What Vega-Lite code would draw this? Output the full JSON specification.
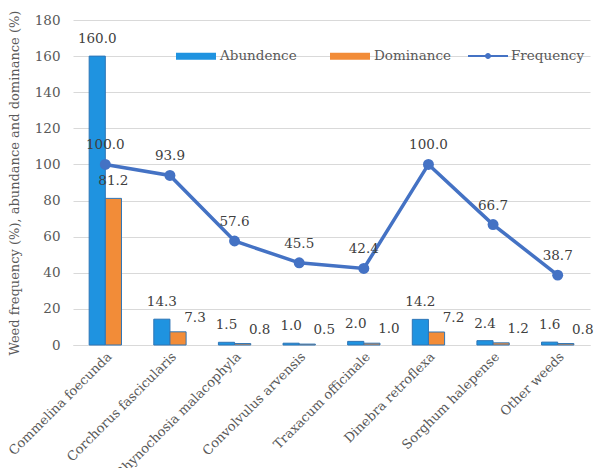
{
  "$schema": "https://vega.github.io/schema/vega-lite/v6.json",
  "autosize": {"type": "none"},
  "width": 517,
  "height": 325,
  "padding": {"left": 73, "top": 20, "right": 9, "bottom": 123},
  "background": "white",
  "config": {"font": "DejaVu Serif", "view": {"stroke": null}},
  "datasets": {
    "bars": [
      {"species": "Commelina foecunda", "series": "Abundence", "value": 160.0},
      {"species": "Commelina foecunda", "series": "Dominance", "value": 81.2},
      {"species": "Corchorus fascicularis", "series": "Abundence", "value": 14.3},
      {"species": "Corchorus fascicularis", "series": "Dominance", "value": 7.3},
      {"species": "Rhynochosia malacophyla", "series": "Abundence", "value": 1.5},
      {"species": "Rhynochosia malacophyla", "series": "Dominance", "value": 0.8},
      {"species": "Convolvulus arvensis", "series": "Abundence", "value": 1.0},
      {"species": "Convolvulus arvensis", "series": "Dominance", "value": 0.5},
      {"species": "Traxacum officinale", "series": "Abundence", "value": 2.0},
      {"species": "Traxacum officinale", "series": "Dominance", "value": 1.0},
      {"species": "Dinebra retroflexa", "series": "Abundence", "value": 14.2},
      {"species": "Dinebra retroflexa", "series": "Dominance", "value": 7.2},
      {"species": "Sorghum halepense", "series": "Abundence", "value": 2.4},
      {"species": "Sorghum halepense", "series": "Dominance", "value": 1.2},
      {"species": "Other weeds", "series": "Abundence", "value": 1.6},
      {"species": "Other weeds", "series": "Dominance", "value": 0.8}
    ],
    "freq": [
      {"species": "Commelina foecunda", "value": 100.0},
      {"species": "Corchorus fascicularis", "value": 93.9},
      {"species": "Rhynochosia malacophyla", "value": 57.6},
      {"species": "Convolvulus arvensis", "value": 45.5},
      {"species": "Traxacum officinale", "value": 42.4},
      {"species": "Dinebra retroflexa", "value": 100.0},
      {"species": "Sorghum halepense", "value": 66.7},
      {"species": "Other weeds", "value": 38.7}
    ]
  },
  "encoding": {
    "x": {
      "field": "species",
      "type": "nominal",
      "sort": null,
      "scale": {"paddingInner": 0.5, "paddingOuter": 0.25},
      "axis": {
        "title": null,
        "labelAngle": -45,
        "labelFont": "DejaVu Serif",
        "labelFontSize": 13,
        "labelColor": "#595959",
        "labelPadding": 5,
        "labelLimit": 300,
        "ticks": false,
        "domainColor": "#D9D9D9",
        "domainWidth": 1
      }
    },
    "y": {
      "field": "value",
      "type": "quantitative",
      "scale": {"domain": [0, 180]},
      "axis": {
        "title": "Weed frequency (%), abundance and dominance (%)",
        "titleFont": "DejaVu Serif",
        "titleFontSize": 13,
        "titleFontWeight": "normal",
        "titleColor": "#595959",
        "titlePadding": 13,
        "values": [0, 20, 40, 60, 80, 100, 120, 140, 160, 180],
        "labelOverlap": false,
        "labelFont": "DejaVu Serif",
        "labelFontSize": 13.5,
        "labelColor": "#595959",
        "labelPadding": 13,
        "domain": false,
        "ticks": false,
        "gridColor": "#D9D9D9",
        "gridWidth": 1
      }
    }
  },
  "layer": [
    {
      "data": {"name": "bars"},
      "mark": {"type": "bar", "stroke": "#2E75B6", "strokeWidth": 1},
      "encoding": {
        "xOffset": {"field": "series", "type": "nominal", "sort": ["Abundence", "Dominance"]},
        "color": {
          "field": "series",
          "type": "nominal",
          "scale": {"domain": ["Abundence", "Dominance"], "range": ["#1F93E0", "#F28C38"]},
          "legend": {
            "title": null,
            "orient": "none",
            "legendX": 103,
            "legendY": 16,
            "direction": "horizontal",
            "symbolType": "M-1,-0.18L1,-0.18L1,0.18L-1,0.18Z",
            "symbolSize": 1600,
            "symbolStrokeWidth": 0,
            "labelFont": "DejaVu Serif",
            "labelFontSize": 13.5,
            "labelColor": "#595959",
            "labelOffset": 4,
            "columnPadding": 33
          }
        }
      }
    },
    {
      "data": {"name": "bars"},
      "transform": [{"filter": "datum.series === 'Abundence'"}],
      "mark": {"type": "text", "baseline": "bottom", "dy": -10, "font": "DejaVu Serif", "fontSize": 13.5, "color": "#404040"},
      "encoding": {
        "xOffset": {"field": "series", "type": "nominal", "sort": ["Abundence", "Dominance"]},
        "text": {"field": "value", "type": "quantitative", "format": ".1f"}
      }
    },
    {
      "data": {"name": "bars"},
      "transform": [{"filter": "datum.series === 'Dominance' && datum.value < 50"}],
      "mark": {"type": "text", "baseline": "bottom", "dy": -7, "dx": 17, "font": "DejaVu Serif", "fontSize": 13.5, "color": "#404040"},
      "encoding": {
        "xOffset": {"field": "series", "type": "nominal", "sort": ["Abundence", "Dominance"]},
        "text": {"field": "value", "type": "quantitative", "format": ".1f"}
      }
    },
    {
      "data": {"name": "bars"},
      "transform": [{"filter": "datum.series === 'Dominance' && datum.value >= 50"}],
      "mark": {"type": "text", "baseline": "bottom", "dy": -10, "font": "DejaVu Serif", "fontSize": 13.5, "color": "#404040"},
      "encoding": {
        "xOffset": {"field": "series", "type": "nominal", "sort": ["Abundence", "Dominance"]},
        "text": {"field": "value", "type": "quantitative", "format": ".1f"}
      }
    },
    {
      "data": {"name": "freq"},
      "mark": {"type": "line", "strokeWidth": 3.5},
      "encoding": {
        "stroke": {
          "datum": "Frequency",
          "scale": {"domain": ["Frequency"], "range": ["#4472C4"]},
          "legend": {
            "title": null,
            "orient": "none",
            "legendX": 395,
            "legendY": 16,
            "direction": "horizontal",
            "symbolType": "M-1,-0.05L1,-0.05L1,0.05L-1,0.05Z M-0.15,0A0.15,0.15 0 1,1 0.15,0A0.15,0.15 0 1,1 -0.15,0Z",
            "symbolSize": 1600,
            "symbolFillColor": "#4472C4",
            "symbolStrokeWidth": 0,
            "labelFont": "DejaVu Serif",
            "labelFontSize": 13.5,
            "labelColor": "#595959",
            "labelOffset": 3
          }
        }
      }
    },
    {
      "data": {"name": "freq"},
      "mark": {"type": "point", "filled": true, "size": 120, "color": "#4472C4", "opacity": 1}
    },
    {
      "data": {"name": "freq"},
      "mark": {"type": "text", "baseline": "bottom", "dy": -12, "font": "DejaVu Serif", "fontSize": 13.5, "color": "#404040"},
      "encoding": {
        "text": {"field": "value", "type": "quantitative", "format": ".1f"}
      }
    }
  ]
}
